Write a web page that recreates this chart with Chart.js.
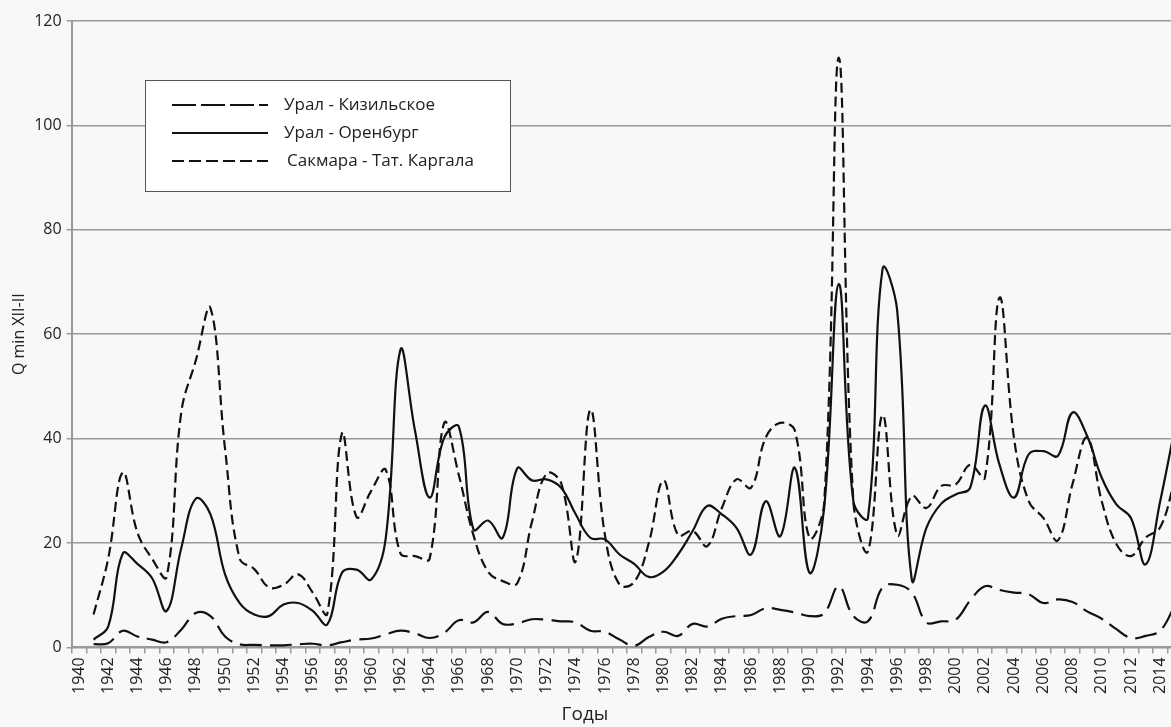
<!DOCTYPE html>
<html>
<head>
<meta charset="utf-8">
<script src="https://cdn.jsdelivr.net/npm/chart.js@4"></script>
<style>
  body { margin: 0; background: #f8f8f8; overflow: hidden; }
  #wrap { width: 1198px; height: 727px; position: relative; }
</style>
</head>
<body>
<div id="wrap"><canvas id="myChart"></canvas></div>
<script>
// years on the x axis (chart is cut on the right, as in the source picture)
const years = [];
for (let y = 1940; y <= 2015; y++) years.push(String(y));

const yTicks = [0, 20, 40, 60, 80, 100, 120];

// Урал - Кизильское
const kizilskoe = [null,
  0.6, 0.8, 3.2, 2.1, 1.5, 1, 3.4, 6.6, 6, 2.1,
  0.6, 0.5, 0.4, 0.4, 0.6, 0.7, 0.4, 1, 1.5, 1.7,
  2.5, 3.2, 2.7, 1.8, 2.8, 5.2, 4.8, 6.8, 4.5, 4.6,
  5.4, 5.3, 5, 4.8, 3.2, 3, 1.5, 0.3, 2, 3,
  2.2, 4.5, 4, 5.5, 6, 6.2, 7.5, 7.2, 6.7, 6,
  6.5, 11.7, 6, 5, 11.5, 12, 10.5, 4.8, 5, 5.3,
  9, 11.7, 11, 10.5, 10.2, 8.5, 9.2, 8.7, 6.9, 5.5,
  3.5, 1.8, 2.2, 3.2, 8];

// Урал - Оренбург
const orenburg = [null,
  1.5, 4, 18, 16, 13.3, 7, 19, 28.5, 25.5, 14,
  8.5, 6.3, 6, 8.2, 8.5, 7, 4.4, 14.3, 14.9, 13,
  21, 57, 41.5, 28.7, 40.2, 42.3, 22.6, 24.3, 21, 34.3,
  32, 32.2, 30.6, 25.5, 21, 20.7, 17.8, 16, 13.5, 14.5,
  17.8, 22.3, 27.1, 25.5, 22.9, 17.8, 28, 21.3, 34.4, 14.3,
  26.7, 69.6, 28, 24.8, 72.5, 64.5, 13, 22.9, 27.5, 29.3,
  30.6, 46.3, 35, 28.7, 37, 37.6, 36.7, 45, 40.5, 32.5,
  27.4, 24.8, 15.9, 28, 42];

// Сакмара - Тат. Каргала
const sakmara = [null,
  6.3, 17, 33.5, 22, 17, 13.5, 45, 55, 65, 38,
  17, 15, 11.5, 12, 14, 10.5, 6.5, 41, 25, 30,
  34, 18, 17.5, 17, 43, 33, 21.5, 14.5, 12.7, 12.3,
  24, 33.3, 31.5, 16.5, 45.5, 21.5, 12, 12.5, 20, 32,
  21.5, 22.3, 19.4, 26.7, 32.2, 30.6, 40.2, 43, 41.5, 21,
  27.5, 113, 28, 18.4, 44.5, 21.5, 29, 26.7, 30.9, 31.2,
  35, 32.5, 67, 40, 28, 24.8, 20.5, 31.3, 40.2, 28,
  19.8, 17.5, 21, 23, 32];

const fontName = "'Open Sans', 'Noto Sans', sans-serif";

// legend box inside the plot + x axis title (it sits left of centre in the original)
const boxLegend = {
  id: 'boxLegend',
  afterDraw(chart) {
    const c = chart.ctx;
    c.save();
    c.fillStyle = '#ffffff';
    c.fillRect(145, 80, 365, 111);
    c.strokeStyle = '#555';
    c.lineWidth = 1;
    c.strokeRect(145.5, 80.5, 365, 111);
    const rows = [105, 133, 161];
    chart.data.datasets.forEach((ds, i) => {
      c.beginPath();
      c.setLineDash(ds.legendDash);
      c.strokeStyle = '#111';
      c.lineWidth = 2;
      c.moveTo(172, rows[i]);
      c.lineTo(268, rows[i]);
      c.stroke();
      c.setLineDash([]);
      c.fillStyle = '#222';
      c.font = '17px ' + fontName;
      c.textBaseline = 'middle';
      c.fillText(ds.label, i == 2 ? 287 : 284, rows[i]);
    });
    c.font = '19px ' + fontName;
    c.textAlign = 'center';
    c.fillText('Годы', 585, 715);
    c.restore();
  }
};

const ctx = document.getElementById('myChart');
const myChart = new Chart(ctx, {
  type: 'line',
  data: {
    labels: years,
    datasets: [
      {
        label: 'Урал - Кизильское',
        data: kizilskoe,
        borderColor: '#111',
        borderWidth: 2.2,
        borderDash: [22, 8],
        legendDash: [24, 5],
        pointRadius: 0,
        tension: 0.4
      },
      {
        label: 'Урал - Оренбург',
        data: orenburg,
        borderColor: '#111',
        borderWidth: 2.2,
        legendDash: [],
        pointRadius: 0,
        tension: 0.4
      },
      {
        label: 'Сакмара - Тат. Каргала',
        data: sakmara,
        borderColor: '#111',
        borderWidth: 2.2,
        borderDash: [10, 5],
        legendDash: [12, 5],
        pointRadius: 0,
        tension: 0.4
      }
    ]
  },
  options: {
    responsive: true,
    maintainAspectRatio: false,
    animation: false,
    layout: { padding: { left: 6, top: 21, right: 0, bottom: 29 } },
    plugins: {
      legend: { display: false },
      tooltip: { enabled: false }
    },
    scales: {
      x: {
        offset: true,
        grid: { offset: true, drawOnChartArea: false, tickLength: 6, color: '#9a9a9a', lineWidth: 1.5 },
        border: { color: '#9a9a9a', width: 2 },
        ticks: {
          autoSkip: false,
          maxRotation: 90,
          minRotation: 90,
          padding: 4,
          color: '#222',
          font: { family: fontName, size: 16 },
          callback: function (value, index) {
            const lab = this.getLabelForValue(value);
            return (parseInt(lab) % 2 == 0) ? lab : '';
          }
        }
      },
      y: {
        min: 0,
        max: 120,
        afterBuildTicks: (axis) => { axis.ticks = yTicks.map(v => ({ value: v })); },
        grid: { color: '#9a9a9a', lineWidth: 1.5, tickLength: 5 },
        border: { color: '#9a9a9a', width: 2 },
        ticks: { padding: 5, color: '#222', font: { family: fontName, size: 16 } },
        title: { display: true, text: 'Q min XII-II', color: '#222', font: { family: fontName, size: 16 }, padding: { top: 4, bottom: 0 } }
      }
    }
  },
  plugins: [boxLegend]
});
</script>
</body>
</html>
